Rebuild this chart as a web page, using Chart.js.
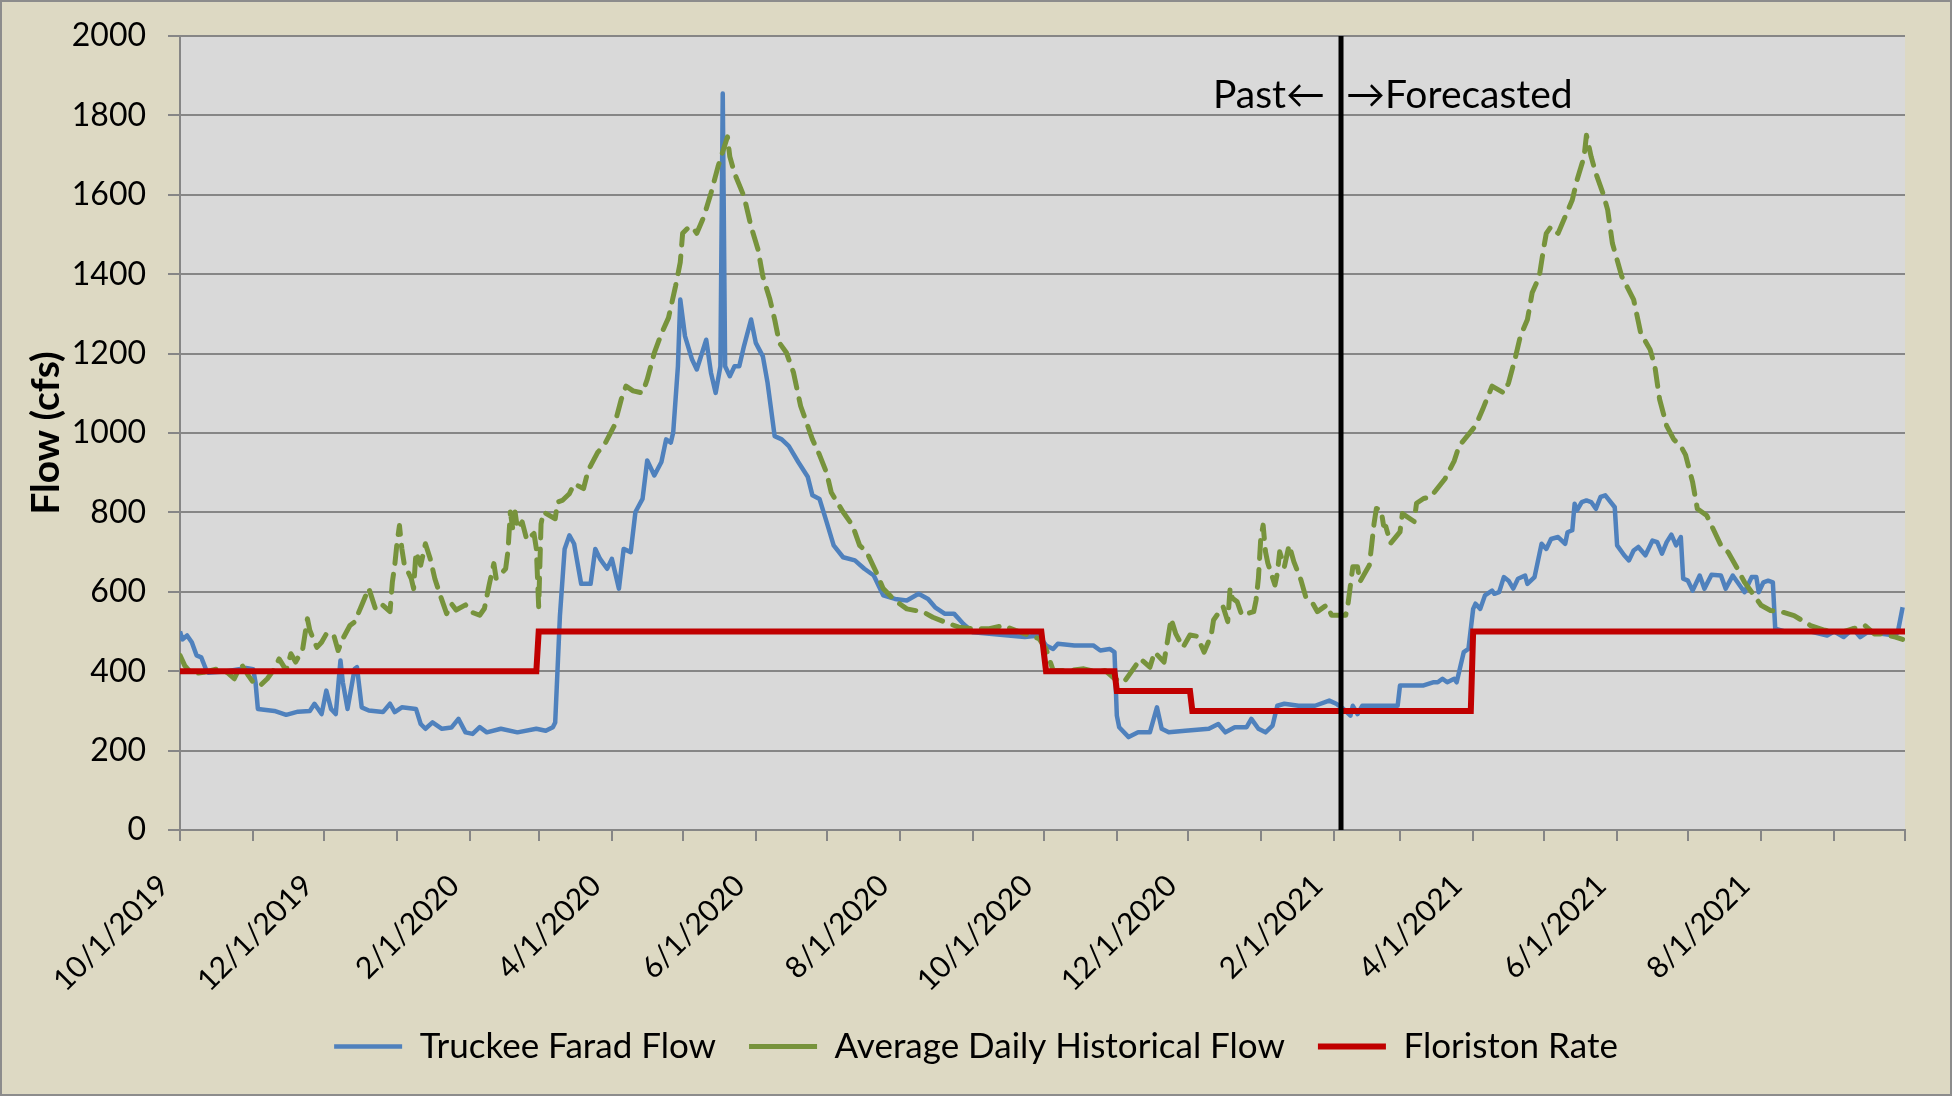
<!DOCTYPE html>
<html>
<head>
<meta charset="utf-8">
<title>Truckee Farad Flow</title>
<script src="https://cdn.jsdelivr.net/npm/chart.js@4.4.1/dist/chart.umd.min.js"></script>
<style>
  html, body { margin: 0; padding: 0; background: #DDD9C3; }
  #wrap { width: 1952px; height: 1096px; position: relative; }
</style>
</head>
<body>
<div id="wrap"><canvas id="flowChart"></canvas></div>
<script>
// x values are days counted from 10/1/2019
const startDate = Date.UTC(2019, 9, 1);
const lastDay = 731;

const tickLabels = ["10/1/2019", "12/1/2019", "2/1/2020", "4/1/2020", "6/1/2020", "8/1/2020",
  "10/1/2020", "12/1/2020", "2/1/2021", "4/1/2021", "6/1/2021", "8/1/2021"];
const yTicks = [0, 200, 400, 600, 800, 1000, 1200, 1400, 1600, 1800, 2000];

// Truckee Farad Flow (cfs)
const faradDays = [0,1,3,5,7,9,11,12,20,28,31,32,33,40,45,50,55,57,60,62,64,66,68,69,71,74,75,77,80,86,89,91,94,100,
  102,104,107,111,115,118,121,124,127,130,136,143,151,155,158,159,161,163,165,167,170,174,176,178,181,183,186,188,191,
  193,196,198,201,204,206,208,209,211,212,214,217,219,223,225,227,229,230,231,233,235,237,239,242,244,247,249,252,255,
  258,262,266,268,271,274,277,281,286,290,294,298,303,308,313,317,320,324,328,332,336,343,351,358,364,367,370,372,379,
  387,390,394,396,397,398,402,406,411,414,416,419,426,436,440,443,447,452,454,457,460,463,465,468,474,481,487,490,493,
  496,497,499,501,516,517,527,531,533,535,537,540,541,544,546,548,549,551,553,556,557,559,561,563,565,567,570,571,574,
  577,579,581,584,587,588,590,591,592,594,596,598,600,602,604,608,609,612,614,616,618,621,624,626,628,630,632,634,636,
  637,639,641,644,646,649,653,655,658,661,663,666,668,669,671,673,675,676,680,691,698,701,705,709,712,715,721,727,728,730];
const faradFlow = [500,480,490,473,440,435,405,396,400,408,405,372,305,300,290,298,300,318,292,351,305,292,427,372,305,406,410,309,301,297,318,297,309,305,
  267,255,271,255,258,280,246,242,259,246,255,246,255,250,259,271,540,708,742,721,620,620,708,683,658,683,608,708,700,
  801,834,931,893,927,984,976,1001,1168,1336,1244,1185,1160,1235,1152,1101,1168,1855,1168,1143,1168,1168,1219,1286,1227,1193,1126,992,984,
  967,927,890,843,834,776,717,687,679,658,641,591,582,578,595,582,561,545,545,519,498,494,490,486,490,465,456,469,465,
  465,452,456,448,288,259,234,246,246,309,255,246,250,255,267,246,259,259,280,255,246,263,313,318,313,313,326,318,305,
  288,313,292,313,313,364,364,372,372,381,372,381,372,448,456,557,570,557,591,603,595,599,637,628,608,633,641,620,637,
  721,708,733,738,721,750,755,822,805,826,830,826,809,839,843,813,717,692,679,704,713,692,729,725,696,725,744,717,738,
  633,628,603,641,608,643,641,608,641,616,599,637,637,599,624,628,624,507,500,500,490,500,486,507,486,498,494,490,500,561];

// Average Daily Historical Flow (cfs)
const histDays = [0,2,5,10,16,20,23,26,29,31,34,37,40,42,45,47,49,52,54,55,58,60,62,65,67,69,72,74,77,80,83,86,89,90,91,92,93,94,95,
  98,99,100,102,104,106,108,110,113,115,117,121,123,127,129,131,133,134,138,139,140,141,142,143,145,147,150,151,152,153,154,
  159,160,162,165,167,171,173,177,180,184,187,189,192,196,198,201,204,207,210,212,213,215,217,219,222,225,228,232,233,235,
  239,242,245,247,250,252,254,257,260,263,266,268,271,274,276,278,281,285,288,291,295,298,303,308,315,319,324,330,336,343,
  349,354,360,364,367,370,377,383,389,392,396,400,404,407,411,413,417,420,422,425,428,431,434,437,438,442,444,445,446,448,
  450,455,456,457,458,459,460,461,464,465,466,468,470,472,475,477,480,482,486,488,494,495,497,499,500,504,505,506,507,509,
  510,511,513,517,518,523,524,527,530,536,540,542,549,552,556,561,563,566,568,571,573,576,578,579,581,584,587,590,592,595,
  596,598,600,603,605,607,611,616,619,623,625,627,630,633,636,638,641,643,647,649,653,656,660,663,667,670,674,679,684,691,
  697,704,709,714,718,721,727,730];
const histFlow = [440,414,393,397,406,397,381,418,389,372,364,381,406,431,402,444,423,456,532,503,460,473,494,494,452,482,515,524,566,609,554,566,550,625,667,725,767,709,671,
  633,608,700,667,721,684,633,596,545,570,554,567,550,541,558,617,671,633,658,704,801,759,801,759,776,730,747,709,562,771,801,
  784,826,830,847,872,860,906,951,972,1018,1085,1118,1106,1101,1135,1202,1250,1290,1370,1430,1503,1515,1520,1503,1545,1604,1671,1746,1696,1654,
  1596,1520,1461,1394,1336,1286,1227,1202,1152,1068,1018,984,945,900,850,830,801,767,717,700,650,608,578,557,549,536,524,511,507,507,
  515,503,490,482,456,402,402,406,397,402,381,372,406,431,410,448,423,532,494,460,491,488,448,491,529,563,525,609,584,575,
  541,550,579,634,735,768,701,672,617,646,701,663,718,676,630,588,571,550,567,541,541,571,663,663,625,667,718,772,810,806,
  768,764,722,751,797,777,823,835,839,884,930,967,1018,1059,1118,1101,1126,1193,1244,1286,1353,1394,1470,1503,1520,1503,1545,1587,1637,1696,
  1750,1696,1654,1604,1562,1478,1394,1336,1252,1210,1168,1085,1018,984,967,945,876,809,792,767,717,700,658,624,591,566,553,549,540,515,
  503,498,507,515,494,494,486,480];

// Floriston Rate (cfs)
const floristonDays = [0, 151, 152, 365, 367, 396, 397, 428, 429, 547, 548, 731];
const floristonRate = [400, 400, 500, 500, 400, 400, 350, 350, 300, 300, 500, 500];

// Past / Forecasted split
const dividerDay = 492;

const toPoints = (days, values) => days.map((d, i) => ({ x: d, y: values[i] }));

const monthTicks = [];
for (let m = 0; m <= 24; m++) {
  monthTicks.push(Math.round((Date.UTC(2019, 9 + m, 1) - startDate) / 86400000));
}

const gridColor = "#868686";

const chartBackground = {
  id: "chartBackground",
  beforeDraw(chart) {
    const { ctx, width, height, chartArea } = chart;
    ctx.save();
    ctx.fillStyle = "#DDD9C3";
    ctx.fillRect(0, 0, width, height);
    ctx.fillStyle = "#D9D9D9";
    ctx.fillRect(chartArea.left, chartArea.top, chartArea.right - chartArea.left, chartArea.bottom - chartArea.top);
    ctx.strokeStyle = "#8C8C8C";
    ctx.lineWidth = 2;
    ctx.strokeRect(1, 1, width - 2, height - 2);
    ctx.restore();
  }
};

const pastForecast = {
  id: "pastForecast",
  afterDatasetsDraw(chart) {
    const { ctx, scales } = chart;
    const x = scales.x.getPixelForValue(dividerDay);
    const y = scales.y.getPixelForValue(1850);
    ctx.save();
    ctx.font = "39px Lato, 'DejaVu Sans', sans-serif";
    ctx.fillStyle = "#000";
    ctx.textBaseline = "middle";
    ctx.textAlign = "right";
    ctx.fillText("Past\u2190", x - 16, y);
    ctx.textAlign = "left";
    ctx.fillText("\u2192Forecasted", x + 5, y);
    ctx.restore();
  }
};

Chart.defaults.font.family = "Lato, 'DejaVu Sans', sans-serif";
Chart.defaults.font.size = 32;
Chart.defaults.color = "#000";

const ctx = document.getElementById("flowChart").getContext("2d");
new Chart(ctx, {
  type: "line",
  data: {
    datasets: [
      {
        label: "Truckee Farad Flow",
        data: toPoints(faradDays, faradFlow),
        borderColor: "#4F81BD",
        backgroundColor: "#4F81BD",
        borderWidth: 4.5,
        borderJoinStyle: "round",
        pointRadius: 0,
        tension: 0,
        order: 3
      },
      {
        label: "Average Daily Historical Flow",
        data: toPoints(histDays, histFlow),
        borderColor: "#77933C",
        backgroundColor: "#77933C",
        borderWidth: 5,
        borderDash: [18, 11],
        borderCapStyle: "round",
        borderJoinStyle: "round",
        pointRadius: 0,
        tension: 0,
        order: 2
      },
      {
        label: "Floriston Rate",
        data: toPoints(floristonDays, floristonRate),
        borderColor: "#C00000",
        backgroundColor: "#C00000",
        borderWidth: 6,
        pointRadius: 0,
        tension: 0,
        order: 1
      },
      {
        label: "divider",
        data: [{ x: dividerDay, y: 0 }, { x: dividerDay, y: 2000 }],
        borderColor: "#000",
        borderWidth: 5,
        pointRadius: 0,
        order: 0
      }
    ]
  },
  options: {
    responsive: true,
    maintainAspectRatio: false,
    animation: false,
    layout: { padding: { top: 36, left: 0, right: 0, bottom: 22 } },
    plugins: {
      tooltip: { enabled: false },
      legend: {
        position: "bottom",
        labels: {
          usePointStyle: true,
          pointStyle: "line",
          pointStyleWidth: 68,
          padding: 33,
          font: { size: 35 },
          filter: item => item.datasetIndex < 3,
          sort: (a, b) => a.datasetIndex - b.datasetIndex
        }
      }
    },
    scales: {
      x: {
        type: "linear",
        min: 0,
        max: lastDay,
        afterBuildTicks: scale => { scale.ticks = monthTicks.map(v => ({ value: v })); },
        afterFit: scale => {
          scale.height = 166;
          scale.paddingLeft = 0;
          scale.paddingRight = 0;
        },
        ticks: {
          autoSkip: false,
          maxRotation: 45,
          minRotation: 45,
          padding: 27,
          labelOffset: -16,
          font: { size: 30 },
          callback: (value, index) => (index % 2 === 0 && tickLabels[index / 2]) ? tickLabels[index / 2] : ""
        },
        grid: { drawOnChartArea: false, drawTicks: true, tickLength: 11, color: gridColor, lineWidth: 2 },
        border: { display: true, color: gridColor, width: 2 }
      },
      y: {
        min: 0,
        max: 2000,
        afterBuildTicks: scale => { scale.ticks = yTicks.map(v => ({ value: v })); },
        afterFit: scale => {
          scale.width = 180;
          scale.paddingTop = 0;
          scale.paddingBottom = 0;
        },
        ticks: { padding: 22, callback: value => String(value) },
        grid: { color: gridColor, lineWidth: 2, tickLength: 12 },
        border: { display: true, color: gridColor, width: 2 },
        title: {
          display: true,
          text: "Flow (cfs)",
          font: { size: 39, weight: "bold" },
          padding: { top: 23, bottom: 0 }
        }
      },
      yRight: {
        position: "right",
        display: true,
        afterFit: scale => { scale.width = 47; },
        ticks: { display: false },
        grid: { display: false },
        border: { display: false }
      }
    }
  },
  plugins: [chartBackground, pastForecast]
});
</script>
</body>
</html>
